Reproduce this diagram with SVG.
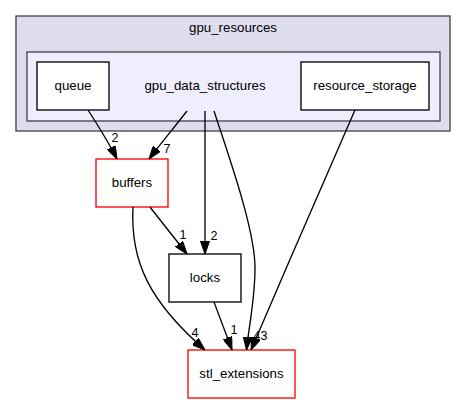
<svg xmlns="http://www.w3.org/2000/svg" width="467" height="404" viewBox="0 0 467 404">
<style>
text{font-family:"Liberation Sans",Arial,Helvetica,sans-serif;font-size:13.3px;fill:#000;text-anchor:middle}
.lbl{font-size:12.5px}
.node{fill:#fff;stroke:#000;stroke-width:1.33}
.red{fill:#fff;stroke:#ff0000;stroke-width:1.33}
.edge{fill:none;stroke:#000;stroke-width:1.33}
</style>
<defs>
<marker id="ah" viewBox="0 0 10 7" refX="10" refY="3.5" markerWidth="13" markerHeight="9.1" markerUnits="userSpaceOnUse" orient="auto">
<path d="M0,0 L10,3.5 L0,7 z" fill="#000" stroke="#000" stroke-width="0.8"/>
</marker>
</defs>
<rect width="467" height="404" fill="#fff"/>
<g id="cluster_gpu_resources">
<rect x="16" y="16" width="434" height="115" fill="#ddddee" stroke="#444" stroke-width="1.33"/>
<text x="233" y="31.5">gpu_resources</text>
</g>
<g id="cluster_gpu_data_structures">
<rect x="27" y="52" width="413" height="69" fill="#eeeeff" stroke="#444" stroke-width="1.33"/>
<text x="205" y="90">gpu_data_structures</text>
</g>
<g id="queue">
<rect class="node" x="37" y="62" width="72" height="48"/>
<text x="73" y="90">queue</text>
</g>
<g id="resource_storage">
<rect class="node" x="301" y="62" width="128" height="48"/>
<text x="365" y="90">resource_storage</text>
</g>
<g id="buffers">
<rect class="red" x="96" y="159" width="72" height="48"/>
<text x="132" y="186.5">buffers</text>
</g>
<g id="locks">
<rect class="node" x="169" y="254" width="72" height="48"/>
<text x="205" y="282">locks</text>
</g>
<g id="stl_extensions">
<rect class="red" x="188" y="350" width="107" height="48"/>
<text x="241.5" y="378">stl_extensions</text>
</g>
<g id="connectors">
<path class="edge" marker-end="url(#ah)" d="M88,110 C97,124 109,143 117,159"/>
<path class="edge" marker-end="url(#ah)" d="M187,111 C177,124 161,143 149,159"/>
<path class="edge" marker-end="url(#ah)" d="M205,111 L205,254"/>
<path class="edge" marker-end="url(#ah)" d="M214,111 C230,160 255,230 255,268 C255,300 249,325 246.5,350"/>
<path class="edge" marker-end="url(#ah)" d="M355,110 C338,150 285,270 251,350"/>
<path class="edge" marker-end="url(#ah)" d="M150,207 C160,220 176,240 187,254"/>
<path class="edge" marker-end="url(#ah)" d="M133,207 C130,262 150,302 205,350"/>
<path class="edge" marker-end="url(#ah)" d="M214,302 L232,350"/>
<text class="lbl" x="115" y="142">2</text>
<text class="lbl" x="167" y="153">7</text>
<text class="lbl" x="214" y="240">2</text>
<text class="lbl" x="257" y="339.5">4</text>
<text class="lbl" x="264" y="339.5">3</text>
<text class="lbl" x="183" y="239">1</text>
<text class="lbl" x="195" y="337">4</text>
<text class="lbl" x="234" y="334">1</text>
</g>
</svg>
